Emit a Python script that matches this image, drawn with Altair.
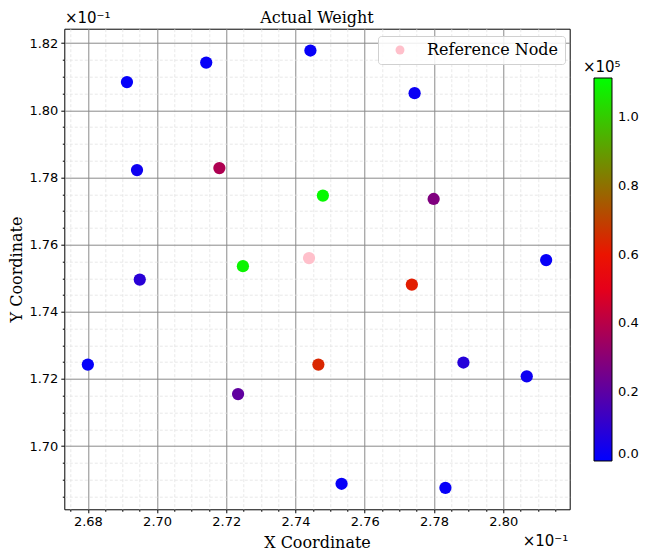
import altair as alt
import pandas as pd

# Data (coordinates shown in units of 1e-1, weights in raw units)
x_vals = [2.6913, 2.7142, 2.7443, 2.7744, 2.6942, 2.7180, 2.7479, 2.7799, 2.7248, 2.8124,
          2.6950, 2.7736, 2.6800, 2.7466, 2.7885, 2.8068, 2.7234, 2.7533, 2.7833]
y_vals = [1.8084, 1.8142, 1.8178, 1.8051, 1.7822, 1.7828, 1.7746, 1.7736, 1.7536, 1.7554,
          1.7496, 1.7481, 1.7243, 1.7243, 1.7249, 1.7208, 1.7155, 1.6888, 1.6876]
weights = [1000, 1500, 1500, 2500, 3000, 38000, 110000, 28000, 109000, 1500,
           9000, 62000, 1000, 64000, 8000, 3000, 21000, 1500, 1500]
ref_x = [2.7439]
ref_y = [1.7560]
ref_label = ["Reference Node"]

x_ticks = [round(2.675 + 0.005 * i, 3) for i in range(29)]
y_ticks = [round(1.685 + 0.005 * i, 3) for i in range(28)]
cbar_ticks = [0, 20000, 40000, 60000, 80000, 100000]
w_max = 111300

SERIF = "DejaVu Serif"
SANS = "DejaVu Sans"

df = pd.DataFrame({"x": x_vals, "y": y_vals, "w": weights})
ref = pd.DataFrame({"x": ref_x, "y": ref_y, "label": ref_label})

MAJ = "abs(datum.value*50 - round(datum.value*50)) < 0.001"


def make_axis(values, title, is_x):
    kw = dict(
        values=values,
        tickCount=200,
        title=title,
        titleFont=SERIF,
        titleFontSize=16,
        titleFontWeight="normal",
        titleColor="black",
        labelFont=SANS,
        labelFontSize=13,
        labelColor="black",
        labelExpr=f"{MAJ} ? format(datum.value, '.2f') : ''",
        labelOverlap=False,
        labelFlush=False,
        labelPadding=3,
        domain=False,
        tickColor="black",
        tickSize={"condition": {"test": MAJ, "value": 3.5}, "value": 2},
        grid=True,
        gridColor={"condition": {"test": MAJ, "value": "#8a8a8a"}, "value": "#e2e2e2"},
        gridDash={"condition": {"test": MAJ, "value": []}, "value": [3, 2]},
        gridWidth={"condition": {"test": MAJ, "value": 1}, "value": 0.8},
    )
    if is_x:
        kw.update(titleX=252.7, titleY=33, titleBaseline="middle", titleAnchor="middle")
    else:
        kw.update(titleX=-47.5, titleY=240.3, titleBaseline="middle", titleAngle=-90)
    return alt.Axis(**kw)


xscale = alt.Scale(domain=[2.6732, 2.8192], nice=False, zero=False)
yscale = alt.Scale(domain=[1.6812, 1.8243], nice=False, zero=False)

points = alt.Chart(df).mark_circle(size=150, opacity=1).encode(
    x=alt.X("x:Q", scale=xscale, axis=make_axis(x_ticks, "X Coordinate", True)),
    y=alt.Y("y:Q", scale=yscale, axis=make_axis(y_ticks, "Y Coordinate", False)),
    color=alt.Color(
        "w:Q",
        scale=alt.Scale(domain=[0, w_max / 2, w_max], range=["#0000ff", "#ff0000", "#00ff00"],
                        interpolate="rgb"),
        legend=alt.Legend(
            title=None,
            orient="none",
            legendX=529.7,
            legendY=49.3,
            direction="vertical",
            gradientLength=383,
            gradientThickness=18,
            gradientStrokeColor="black",
            gradientStrokeWidth=1,
            values=cbar_ticks,
            labelExpr="format(datum.value/100000, '.1f')",
            labelFont=SANS,
            labelFontSize=13,
            labelColor="black",
            labelOffset=6,
            labelBaseline="middle",
            labelOverlap=False,
            padding=0,
        ),
    ),
)

ref_pt = alt.Chart(ref).mark_point(filled=True, size=150, opacity=1, color="#ffc0cb").encode(
    x="x:Q",
    y="y:Q",
    shape=alt.Shape(
        "label:N",
        scale=alt.Scale(range=["circle"]),
        legend=alt.Legend(
            title=None,
            orient="none",
            legendX=313.7,
            legendY=7.3,
            padding=6,
            fillColor="rgba(255,255,255,0.85)",
            strokeColor="#d0d0d0",
            cornerRadius=3,
            symbolFillColor="#ffc0cb",
            symbolStrokeColor="#ffc0cb",
            symbolStrokeWidth=0,
            symbolSize=80,
            symbolOffset=8,
            labelFont=SERIF,
            labelFontSize=16,
            labelColor="black",
            labelOffset=19,
        ),
    ),
)


def note(text, x, y, align, font=SANS, size=15):
    return alt.Chart(pd.DataFrame({"t": [text]})).mark_text(
        font=font, fontSize=size, color="black", align=align, baseline="middle"
    ).encode(text="t:N", x=alt.value(x), y=alt.value(y))


chart = alt.layer(
    points,
    ref_pt,
    note("×10⁻¹", 0.7, -11, "left"),
    note("×10⁻¹", 504, 512, "right"),
    note("×10⁵", 518.7, 38.5, "left"),
    note("Actual Weight", 252.7, -11, "center", font=SERIF, size=16),
).properties(
    width=505.4,
    height=480.6,
    autosize="none",
    padding={"left": 56.3, "top": 20.7, "right": 70, "bottom": 42},
).resolve_legend(color="independent", shape="independent").configure_view(
    stroke="black", strokeWidth=1
)

chart.save("out.html", embed_options={"renderer": "svg", "actions": False})
